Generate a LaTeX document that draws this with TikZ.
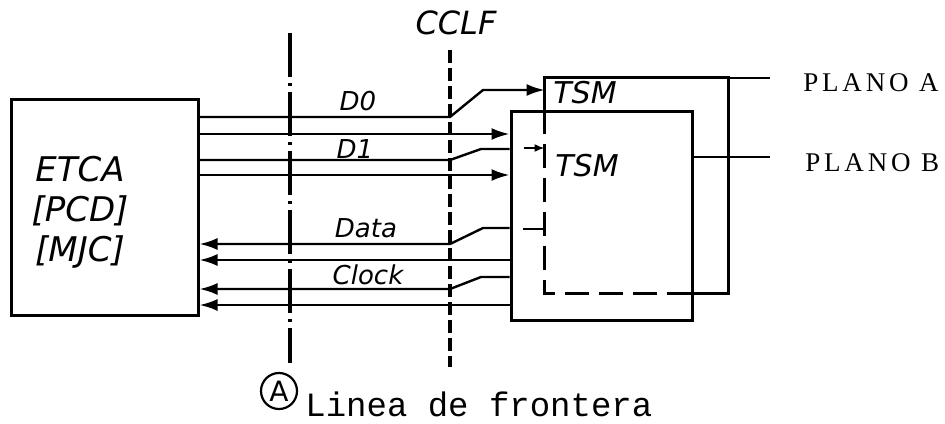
\documentclass[tikz,border=0pt]{standalone}
\usepackage{fontspec}
\setsansfont{DejaVu Sans}
\setmonofont{Liberation Mono}
\newfontfamily\planofont[LetterSpace=14]{Liberation Serif}
\usepackage{tikz}
\usetikzlibrary{arrows.meta, positioning}

\begin{document}
\begin{tikzpicture}[
  x=0.5pt, y=-0.5pt,
  box/.style={draw, line width=1.5pt, inner sep=0pt},
  wire/.style={line width=1.2pt},
  fwd/.style={wire, -{Latex[length=9pt,width=6pt]}},
  back/.style={wire, {Latex[length=9pt,width=6pt]}-},
  hidden/.style={line width=1.3pt, dash pattern=on 12pt off 5pt},
  sig/.style={font=\sffamily\itshape\fontsize{13}{13}\selectfont, inner sep=1pt},
  plano/.style={font=\planofont\fontsize{13.5}{14}\selectfont, anchor=west, inner sep=0pt}]
\useasboundingbox (0,0) rectangle (945,423);
% boxes
\node[box, minimum width=93.5pt, minimum height=108pt] (etca) at (104.5,207) {};
\node[font=\sffamily\itshape\fontsize{17}{20}\selectfont, align=center] (etcatext) at (80,212) {ETCA\\{[PCD]}\\{[MJC]}};
\node[inner sep=0pt, minimum width=91.5pt, minimum height=107.5pt] (tsma) at (636.5,185.5) {};
\node[box, minimum width=90.5pt, minimum height=104.5pt] (tsmb) at (601.5,215.5) {};
\node[font=\sffamily\itshape\fontsize{15}{15}\selectfont] (tsmatext) at (585,93) {TSM};
\node[font=\sffamily\itshape\fontsize{15}{15}\selectfont] (tsmbtext) at (587,166) {TSM};
\draw[line width=1.5pt] (tsma.west |- tsmb.north) -- (tsma.north west) -- (tsma.north east)
  -- (tsma.south east) -- (tsmb.east |- tsma.south);
\draw[hidden] (tsma.west |- tsmb.north) -- (tsma.south west) -- (tsmb.east |- tsma.south);
% boundary lines
\coordinate (atop) at (290,33);
\coordinate (abot) at (290,363);
\coordinate (ctop) at (450,50);
\coordinate (cbot) at (450,367);
\draw[line width=1.6pt, dash pattern=on 22pt off 3pt on 1.5pt off 3pt] (atop) -- (abot);
\draw[line width=1.8pt, dash pattern=on 6.5pt off 2.5pt] (ctop) -- (cbot);
\node[font=\sffamily\itshape\fontsize{16}{16}\selectfont] (cclf) at (456,23) {CCLF};
\node[circle, draw, line width=1.1pt, inner sep=0pt, minimum size=18pt,
  font=\sffamily\fontsize{14}{14}\selectfont] (amark) at (279,391) {A};
\node[font=\ttfamily\fontsize{17}{18}\selectfont, anchor=base west, inner sep=0pt] (frontera) at (305,416) {Linea de frontera};
% outgoing wires
\draw[fwd] (etca.east |- 0,117) -- (ctop |- 0,117) -- (483,90) -- (tsma.west |- 0,90);
\draw[fwd] (etca.east |- 0,134) -- (tsmb.west |- 0,134);
\draw[wire] (etca.east |- 0,160) -- (ctop |- 0,160) -- (481,149) -- (tsmb.west |- 0,149);
\draw[fwd] (etca.east |- 0,175) -- (tsmb.west |- 0,175);
\draw[wire, -{Latex[length=5pt,width=4pt]}] (524,148) -- (tsma.west |- 0,148);
% returning wires
\draw[back] (etca.east |- 0,244) -- (ctop |- 0,244) -- (483,228) -- (tsmb.west |- 0,228);
\draw[back] (etca.east |- 0,260) -- (tsmb.west |- 0,260);
\draw[back] (etca.east |- 0,289) -- (ctop |- 0,289) -- (481,277) -- (tsmb.west |- 0,277);
\draw[back] (etca.east |- 0,305) -- (tsmb.west |- 0,305);
\draw[wire] (523,229) -- (tsma.west |- 0,229);
\node[sig] (d0) at (358,101) {D0};
\node[sig] (d1) at (355,149) {D1};
\node[sig] (data) at (366,228) {Data};
\node[sig] (clock) at (368,275) {Clock};
% planes
\node[plano] (planoa) at (803,83) {PLANO A};
\node[plano] (planob) at (805,163) {PLANO B};
\draw[line width=0.9pt] (tsma.north east) -- ++(42,0);
\draw[line width=0.9pt] (tsmb.east |- 0,157) -- (770,157);
\end{tikzpicture}
\end{document}
